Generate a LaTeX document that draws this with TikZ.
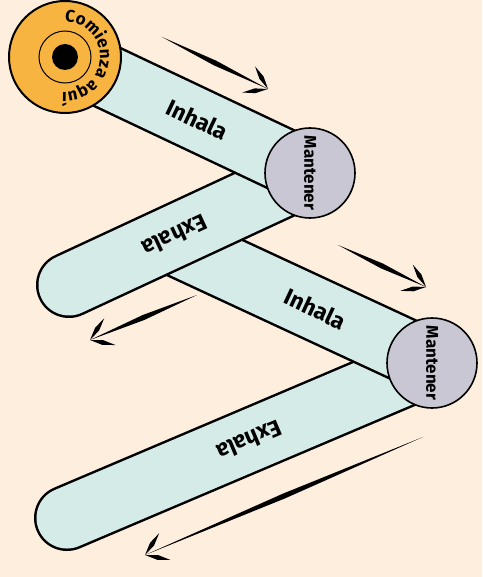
\documentclass[tikz,border=0pt]{standalone}
\usepackage{fontspec}
\setmainfont{Fira Sans}
\usetikzlibrary{calc,decorations.text}
\definecolor{PaperPeach}{RGB}{254,238,222}
\definecolor{BarMint}{RGB}{213,235,231}
\definecolor{StartOrange}{RGB}{247,180,64}
\definecolor{HoldGray}{RGB}{200,199,211}
\pgfdeclarelayer{bars}
\pgfsetlayers{bars,main}
\tikzset{
  barline/.style={draw=black,line width=66pt,line cap=round},
  barfill/.style={draw=BarMint,line width=61pt,line cap=round},
  startdisk/.style={circle,draw=black,fill=StartOrange,line width=2pt,minimum size=112pt,inner sep=0pt},
  holddisk/.style={circle,draw=black,fill=HoldGray,line width=1.6pt,minimum size=90pt,inner sep=0pt,
    rotate=-90,font=\fontsize{17}{17}\selectfont\bfseries},
  lab/.style={font=\fontsize{23}{23}\selectfont\bfseries,text=black,sloped,allow upside down},
}
\newcommand\brushstroke[3][2.6pt]{\fill (#2) -- ($(#2)!.5!(#3)!#1!90:(#3)$) -- (#3) -- ($(#2)!.5!(#3)!#1!-90:(#3)$) -- cycle;}
\newcommand\sketcharrow[2]{\brushstroke{#1}{#2}
  \coordinate (#2l) at ($(#2)!26pt!34:(#1)$); \coordinate (#2r) at ($(#2)!26pt!-34:(#1)$);
  \brushstroke[2.4pt]{#2l}{#2}\brushstroke[2.4pt]{#2r}{#2}}

\begin{document}
\begin{tikzpicture}[x=1pt,y=-1pt]
\useasboundingbox (0,0) rectangle (482,577);
% discs
\node[holddisk] (M2) at (432,363) {Mantener};
\node[holddisk] (M1) at (310,173) {Mantener};
\node[startdisk] (S) at (65,57) {};
\draw[line width=1pt] (S) circle[radius=26];
\fill (S) circle[radius=13];
\path[decorate,decoration={text along path,text align=center,
  text={|\fontsize{17}{17}\selectfont\bfseries|Comienza aquí}}]
  (S) ++(-92:35) arc[start angle=-92,end angle=96,radius=35];
% bars, last one first
\begin{pgfonlayer}{bars}
\fill[PaperPeach] (0,0) rectangle (482,577);
\coordinate (E2) at (67,518);
\coordinate (E1) at (69,285);
\coordinate (X) at (167,240);
\draw[barline] (M2.center) -- (E2);
\draw[barfill] (M2.center) -- node[lab,pos=.5]{Exhala} (E2);
\draw[barline] (X) -- (M2.center);
\draw[barfill] (X) -- node[lab,pos=.56]{Inhala} (M2.center);
\draw[barline] (M1.center) -- (E1);
\draw[barfill] (M1.center) -- node[lab,pos=.56]{Exhala} (E1);
\draw[barline] (S.center) -- (M1.center);
\draw[barfill] (S.center) -- node[lab,pos=.54]{Inhala} (M1.center);
\end{pgfonlayer}
% arrows
\coordinate (a1) at (162,37);  \coordinate (b1) at (268,89);
\coordinate (a2) at (338,245); \coordinate (b2) at (426,287);
\coordinate (a3) at (197,295); \coordinate (b3) at (90,340);
\coordinate (a4) at (423,437); \coordinate (b4) at (145,555);
\foreach \i in {1,...,4}{\sketcharrow{a\i}{b\i}}
\end{tikzpicture}
\end{document}
